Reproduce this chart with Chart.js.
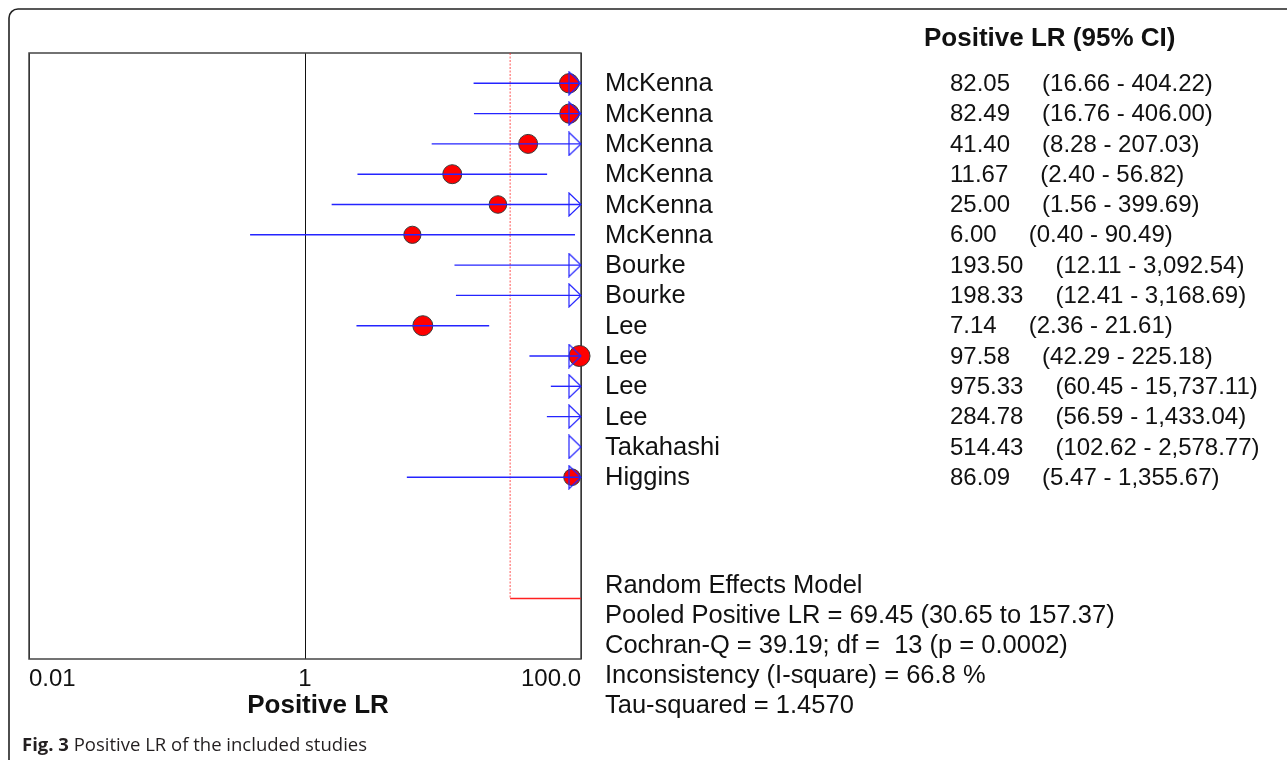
<!DOCTYPE html>
<html>
<head>
<meta charset="utf-8">
<script src="https://cdn.jsdelivr.net/npm/chart.js@4.4.0/dist/chart.umd.min.js"></script>
<style>
  html, body { margin: 0; padding: 0; background: #fff; overflow: hidden; }
  #wrap { width: 1287px; height: 760px; position: relative; }
</style>
</head>
<body>
<div id="wrap"><canvas id="c" width="1287" height="760"></canvas></div>
<script>
// Study rows, top to bottom
const studies = ['McKenna', 'McKenna', 'McKenna', 'McKenna', 'McKenna', 'McKenna',
  'Bourke', 'Bourke', 'Lee', 'Lee', 'Lee', 'Lee', 'Takahashi', 'Higgins'];
// Positive likelihood ratio and its 95% CI
const lr     = [82.05, 82.49, 41.40, 11.67, 25.00, 6.00, 193.50, 198.33, 7.14, 97.58, 975.33, 284.78, 514.43, 86.09];
const ciLow  = [16.66, 16.76, 8.28, 2.40, 1.56, 0.40, 12.11, 12.41, 2.36, 42.29, 60.45, 56.59, 102.62, 5.47];
const ciHigh = [404.22, 406.00, 207.03, 56.82, 399.69, 90.49, 3092.54, 3168.69, 21.61, 225.18, 15737.11, 1433.04, 2578.77, 1355.67];

// Axis ticks
const xTicks = [0.01, 1, 100];
const xTickLabels = ['0.01', '1', '100.0'];

// Pooled random-effects estimate: [LR, lower, upper]
const pooled = [69.45, 30.65, 157.37];
const cochranQ = [39.19, 13, '0.0002'];   // Q, df, p
const iSquare = [66.8];
const tauSquared = ['1.4570'];

const X_MIN = 0.01, X_MAX = 100;
const POOLED_ROW = 17;
const FONT = '"Liberation Sans", Arial, sans-serif';
const BLUE = '#2424ff';

// marker size per study (drawn radius, px)
const markerSize = [9.7, 9.7, 9.5, 9.5, 8.8, 8.6, 9, 9, 10, 10.5, 9, 9, 9, 8.3];

const fmt = v => v.toLocaleString('en-US', { minimumFractionDigits: 2, maximumFractionDigits: 2 });

// open right-pointing arrow for intervals that run past the axis
const arrow = document.createElement('canvas');
arrow.width = 26; arrow.height = 25;
(() => {
  const g = arrow.getContext('2d');
  g.strokeStyle = BLUE; g.lineWidth = 1.2;
  g.beginPath();
  g.moveTo(1, 1); g.lineTo(13, 12.5); g.lineTo(1, 24); g.closePath();
  g.stroke();
})();

const datasets = [];

// point estimates
datasets.push({
  data: lr.map((v, i) => ({ x: v, y: i })),
  pointRadius: c => lr[c.dataIndex] <= X_MAX ? markerSize[c.dataIndex] : 0,
  pointBackgroundColor: '#ff0000',
  pointBorderColor: '#3a3a3a',
  pointBorderWidth: 1,
  pointStyle: 'circle',
  clip: false,
  order: 5
});

// confidence intervals
lr.forEach((v, i) => {
  datasets.push({
    data: [{ x: Math.min(ciLow[i], X_MAX), y: i }, { x: Math.min(ciHigh[i], X_MAX), y: i }],
    showLine: true,
    borderColor: BLUE,
    borderWidth: 1.4,
    pointRadius: 0,
    clip: false,
    order: 3
  });
});

// arrows for truncated upper limits
datasets.push({
  data: ciHigh.map((h, i) => h > X_MAX ? { x: X_MAX, y: i } : null).filter(Boolean),
  pointStyle: arrow,
  pointRadius: 1,
  clip: false,
  order: 1
});

// pooled estimate: dotted reference line and interval
datasets.push({
  data: [{ x: pooled[1], y: -1 }, { x: pooled[1], y: POOLED_ROW }],
  showLine: true, borderColor: 'rgba(255,40,40,0.8)', borderWidth: 1, borderDash: [2, 1.5],
  pointRadius: 0, order: 6
});
datasets.push({
  data: [{ x: pooled[1], y: POOLED_ROW }, { x: Math.min(pooled[2], X_MAX), y: POOLED_ROW }],
  showLine: true, borderColor: '#ff2020', borderWidth: 1.5,
  pointRadius: 0, order: 6
});

const decor = {
  id: 'decor',
  beforeDatasetsDraw(chart) {
    const { ctx, chartArea: a } = chart;
    ctx.save();
    ctx.strokeStyle = '#444';
    ctx.lineWidth = 1.5;
    ctx.strokeRect(a.left, a.top, a.right - a.left, a.bottom - a.top);
    ctx.restore();
  },
  afterDraw(chart) {
    const { ctx } = chart;
    const ys = chart.scales.y;
    ctx.save();

    // outer frame
    ctx.strokeStyle = '#222';
    ctx.lineWidth = 1.6;
    ctx.beginPath();
    ctx.moveTo(9, 780);
    ctx.lineTo(9, 18);
    ctx.arcTo(9, 9, 18, 9, 9);
    ctx.lineTo(1300, 9);
    ctx.stroke();

    ctx.fillStyle = '#111';
    ctx.textBaseline = 'middle';

    // column header
    ctx.font = 'bold 26px ' + FONT;
    ctx.fillText('Positive LR (95% CI)', 924, 39);

    // axis title
    ctx.textAlign = 'center';
    ctx.fillText('Positive LR', 318, 706);
    ctx.textAlign = 'left';

    // study rows
    studies.forEach((s, i) => {
      const y = ys.getPixelForValue(i) + 1;
      ctx.font = '25.5px ' + FONT;
      ctx.fillText(s, 605, y);
      ctx.font = '24px ' + FONT;
      const v = fmt(lr[i]);
      ctx.fillText(v, 950, y);
      const w = ctx.measureText(v).width;
      ctx.fillText('(' + fmt(ciLow[i]) + ' - ' + fmt(ciHigh[i]) + ')', 950 + w + 32, y);
    });

    // summary statistics
    const stats = [
      'Random Effects Model',
      'Pooled Positive LR = ' + fmt(pooled[0]) + ' (' + fmt(pooled[1]) + ' to ' + fmt(pooled[2]) + ')',
      'Cochran-Q = ' + fmt(cochranQ[0]) + '; df =  ' + cochranQ[1] + ' (p = ' + cochranQ[2] + ')',
      'Inconsistency (I-square) = ' + iSquare[0].toFixed(1) + ' %',
      'Tau-squared = ' + tauSquared[0]
    ];
    ctx.font = '25.5px ' + FONT;
    stats.forEach((t, k) => ctx.fillText(t, 605, 586 + k * 30));

    // caption
    ctx.textBaseline = 'alphabetic';
    ctx.fillStyle = '#231f20';
    ctx.font = 'bold 18.5px "Open Sans", sans-serif';
    ctx.fillText('Fig. 3', 22, 751);
    const cw = ctx.measureText('Fig. 3').width;
    ctx.font = '18.5px "Open Sans", sans-serif';
    ctx.fillText(' Positive LR of the included studies', 22 + cw, 751);

    ctx.restore();
  }
};

new Chart(document.getElementById('c'), {
  type: 'scatter',
  data: { datasets },
  options: {
    responsive: false,
    devicePixelRatio: 1,
    animation: false,
    events: [],
    layout: { padding: { left: 29, top: 53, right: 706, bottom: 0 } },
    plugins: { legend: { display: false }, tooltip: { enabled: false } },
    scales: {
      x: {
        type: 'logarithmic',
        min: X_MIN,
        max: X_MAX,
        afterBuildTicks: s => { s.ticks = xTicks.map(v => ({ value: v })); },
        afterFit: s => { s.height = 101; },
        ticks: {
          align: 'inner',
          padding: 6,
          color: '#111',
          font: { family: FONT, size: 24 },
          maxRotation: 0,
          autoSkip: false,
          callback: (v, i) => xTickLabels[i]
        },
        grid: { color: '#111', lineWidth: 1, drawTicks: false },
        border: { display: false },
        title: { display: false }
      },
      y: {
        type: 'linear',
        min: -1,
        max: 19,
        reverse: true,
        display: false
      }
    }
  },
  plugins: [decor]
});
</script>
</body>
</html>
